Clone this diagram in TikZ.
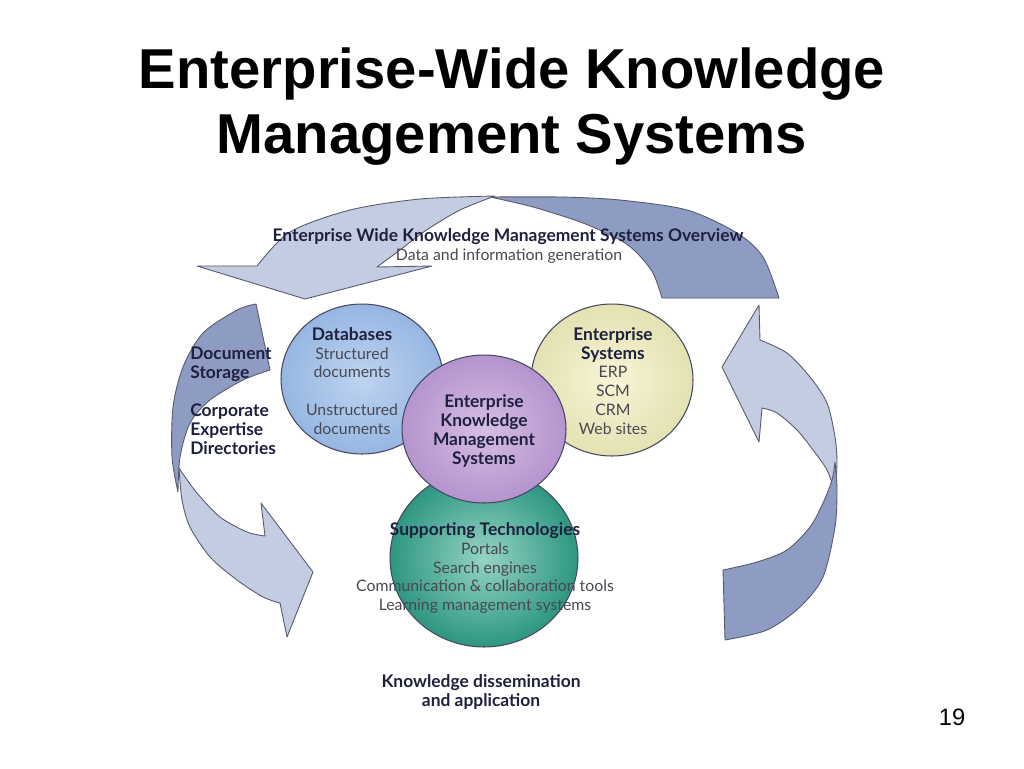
\documentclass[tikz,border=0pt]{standalone}
\usepackage{fontspec}
\setmainfont{Liberation Sans}
\newfontfamily\gillfont{Lato}
\usetikzlibrary{shapes.geometric}
\definecolor{bandlight}{RGB}{196,204,226}
\definecolor{banddark}{RGB}{142,156,196}
\definecolor{bandline}{RGB}{85,90,110}
\definecolor{bubbleline}{RGB}{70,72,95}
\definecolor{dbin}{RGB}{190,212,240}
\definecolor{dbout}{RGB}{150,182,226}
\definecolor{esin}{RGB}{247,245,215}
\definecolor{esout}{RGB}{228,225,178}
\definecolor{ekin}{RGB}{214,190,228}
\definecolor{ekout}{RGB}{180,148,206}
\definecolor{stin}{RGB}{150,212,196}
\definecolor{stout}{RGB}{45,150,130}
\definecolor{txtnavy}{RGB}{30,32,62}
\definecolor{txtgray}{RGB}{72,72,82}
\newcommand\kmhd[1]{{\fontsize{9.9}{10.77}\selectfont\bfseries\color{txtnavy}#1}}
\begin{document}
\begin{tikzpicture}[x=0.02cm,y=-0.02cm,
  band/.style={draw=bandline, line width=0.5pt, line join=round},
  lightband/.style={band, fill=bandlight},
  darkband/.style={band, fill=banddark},
  bubble/.style={ellipse, draw=bubbleline, line width=0.6pt, inner sep=0pt},
  lbl/.style={font=\gillfont\fontsize{9}{10.77}\selectfont, text=txtgray, align=center, inner sep=0pt},
  titletxt/.style={font=\fontsize{32}{36.85}\selectfont\bfseries, text=black, inner sep=0pt, anchor=base}]
\useasboundingbox (0,0) rectangle (1024,768);
\fill[white] (0,0) rectangle (1024,768);

% title
\node[titletxt] (t1) at (512,88) {Enterprise-Wide Knowledge};
\node[titletxt] (t2) at (512,153) {Management Systems};

% top arrow
\draw[darkband] (490,197) -- plot[smooth] coordinates {(490,197) (560,197) (620,200) (687,210) (737,233) (763,257) (779,298)}
  -- (662,298) -- plot[smooth] coordinates {(662,298) (653,273) (637,253) (620,240) (583,223) (533,207) (490,197)} -- cycle;
\draw[lightband] (305,299) -- (197,266) -- (257,266)
  -- plot[smooth] coordinates {(257,266) (290,232) (350,210) (420,199) (495,196)}
  -- plot[smooth] coordinates {(495,196) (460,210) (425,231) (400,250) (377,267)}
  -- (432,266) -- cycle;

% left arrow
\draw[lightband] (179,468) -- plot[smooth] coordinates {(179,468) (182,500) (190,527) (210,557) (237,580) (263,597) (280,603)}
  -- (287,637) -- (313,572) -- (261,503) -- (265,536)
  -- plot[smooth] coordinates {(265,536) (247,532) (220,517) (197,493) (183,474) (179,468)} -- cycle;
\draw[darkband] (256,304) -- (270,370)
  -- plot[smooth] coordinates {(270,370) (243,380) (210,400) (190,423) (180,457) (178,492)}
  -- plot[smooth] coordinates {(178,492) (172,457) (173,407) (183,367) (203,333) (237,310) (256,304)} -- cycle;

% right arrow
\draw[lightband] (759,305) -- (722,367) -- (759,442) -- (762,408)
  -- plot[smooth] coordinates {(762,408) (777,413) (797,430) (813,450) (827,470) (835,492)}
  -- plot[smooth] coordinates {(835,492) (837,463) (835,437) (827,403) (810,377) (787,353) (760,340)} -- cycle;
\draw[darkband] (835,462) -- plot[smooth] coordinates {(835,462) (837,490) (835,527) (823,577) (800,607) (767,630) (725,640)}
  -- (723,570) -- plot[smooth] coordinates {(723,570) (757,562) (787,550) (810,527) (823,503) (832,480) (835,462)} -- cycle;

% bubbles
\node[bubble, minimum width=3.24cm, minimum height=3.0cm, inner color=dbin, outer color=dbout] (db) at (362,379) {};
\node[bubble, minimum width=3.24cm, minimum height=3.04cm, inner color=esin, outer color=esout] (es) at (612,380) {};
\node[bubble, minimum width=3.76cm, minimum height=3.56cm, inner color=stin, outer color=stout] (st) at (484,558) {};
\node[bubble, minimum width=3.28cm, minimum height=2.96cm, inner color=ekin, outer color=ekout] (ek) at (484,429) {};

% texts
\node[lbl] (topt) at (508,237) {\kmhd{Enterprise Wide Knowledge Management Systems Overview}};
\node[lbl] (topd) at (509,256) {Data and information generation};
\node[lbl] (dbt) at (352,381) {\kmhd{Databases}\\Structured\\documents\\[10.77pt]Unstructured\\documents};
\node[lbl] (est) at (613,381) {\kmhd{Enterprise}\\\kmhd{Systems}\\ERP\\SCM\\CRM\\Web sites};
\node[lbl] (ekt) at (484,431) {\kmhd{Enterprise}\\\kmhd{Knowledge}\\\kmhd{Management}\\\kmhd{Systems}};
\node[lbl] (stt) at (485,568) {\kmhd{Supporting Technologies}\\Portals\\Search engines\\Communication \& collaboration tools\\Learning management systems};
\node[lbl, anchor=west, align=left] (lft) at (190,401) {\kmhd{Document}\\\kmhd{Storage}\\[10.77pt]\kmhd{Corporate}\\\kmhd{Expertise}\\\kmhd{Directories}};
\node[lbl] (bot) at (481,692) {\kmhd{Knowledge dissemination}\\\kmhd{and application}};

% page number
\node[font=\fontsize{13.5}{16}\selectfont, inner sep=0pt, anchor=base] (pg) at (952,725) {19};
\end{tikzpicture}
\end{document}
